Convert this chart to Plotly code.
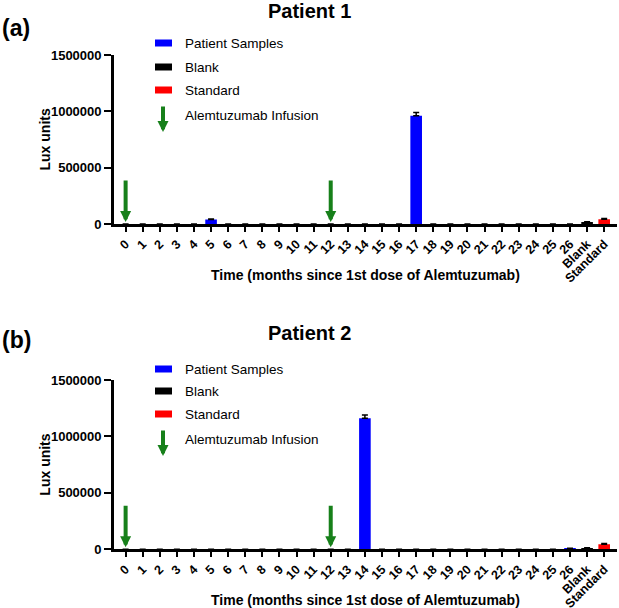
import plotly.graph_objects as go

# ---------------- data ----------------
months = ["0", "1", "2", "3", "4", "5", "6", "7", "8", "9", "10", "11", "12", "13",
          "14", "15", "16", "17", "18", "19", "20", "21", "22", "23", "24", "25", "26"]
controls = ["Blank", "Standard"]
categories = months + controls

p1_samples = [0, 0, 0, 0, 0, 40000, 0, 0, 0, 0, 0, 0, 0, 0,
              0, 0, 0, 960000, 0, 0, 0, 0, 0, 0, 0, 0, 0]
p1_samples_err = [None, None, None, None, None, 5000, None, None, None, None, None, None, None, None,
                  None, None, None, 30000, None, None, None, None, None, None, None, None, None]
p1_blank = [15000]
p1_blank_err = [4000]
p1_standard = [42000]
p1_standard_err = [6000]

p2_samples = [0, 0, 0, 0, 0, 0, 0, 0, 0, 0, 0, 0, 0, 0,
              1160000, 0, 0, 0, 0, 0, 0, 0, 0, 0, 0, 0, 7000]
p2_samples_err = [None, None, None, None, None, None, None, None, None, None, None, None, None, None,
                  30000, None, None, None, None, None, None, None, None, None, None, None, 2000]
p2_blank = [10000]
p2_blank_err = [3000]
p2_standard = [45000]
p2_standard_err = [7000]

infusion_months = ["0", "12"]
infusion_arrow_top = 400000

y_ticks = [0, 500000, 1000000, 1500000]

x_title = "Time (months since 1st dose of Alemtuzumab)"
y_title = "Lux units"

# ---------------- styling ----------------
W, H = 619, 608
FONT = "Arial, Liberation Sans, sans-serif"
GREEN = "#17801a"
BLUE = "#0000ff"


def fx(px):
    return px / W


def fy(py):
    return 1 - py / H


fig = go.Figure()


def err(vals):
    return dict(type="data", array=vals, arrayminus=[0 if v is not None else None for v in vals],
                symmetric=False, color="black", thickness=1.5, width=3, visible=True)


panels = [
    ("x", "y", p1_samples, p1_samples_err, p1_blank, p1_blank_err, p1_standard, p1_standard_err),
    ("x2", "y2", p2_samples, p2_samples_err, p2_blank, p2_blank_err, p2_standard, p2_standard_err),
]

for xa, ya, s, se, b, be, st, ste in panels:
    fig.add_trace(go.Bar(x=months, y=s, xaxis=xa, yaxis=ya, width=0.68,
                         marker=dict(color=BLUE, line=dict(width=0)), error_y=err(se),
                         showlegend=False))
    fig.add_trace(go.Bar(x=["Blank"], y=b, xaxis=xa, yaxis=ya, width=0.68,
                         marker=dict(color="black", line=dict(width=0)), error_y=err(be),
                         showlegend=False))
    fig.add_trace(go.Bar(x=["Standard"], y=st, xaxis=xa, yaxis=ya, width=0.68,
                         marker=dict(color="red", line=dict(width=0)), error_y=err(ste),
                         showlegend=False))

# panel geometry (pixels)
x_left, x_right = 114, 617
p1_top, p1_bot = 55, 224
p2_top, p2_bot = 380, 549.3

xaxis_common = dict(type="category", categoryorder="array", categoryarray=categories,
                    range=[-0.68, 28.75], showline=True, linecolor="black", linewidth=2.7,
                    ticks="outside", ticklen=5, tickwidth=2, tickcolor="black",
                    tickangle=-45, tickfont=dict(family=FONT, size=12.5, color="black", weight="bold"),
                    showgrid=False, zeroline=False, fixedrange=True, automargin=False)
yaxis_common = dict(range=[0, 1500000], tickvals=y_ticks, tickformat="d",
                    showline=True, linecolor="black", linewidth=2.7,
                    ticks="outside", ticklen=7, tickwidth=2, tickcolor="black",
                    tickfont=dict(family=FONT, size=13, color="black", weight="bold"),
                    showgrid=False, zeroline=False, fixedrange=True, automargin=False)

fig.update_layout(
    width=W, height=H,
    margin=dict(l=0, r=0, t=0, b=0, autoexpand=False),
    paper_bgcolor="white", plot_bgcolor="white",
    barmode="overlay", showlegend=False,
    font=dict(family=FONT, color="black"),
    xaxis=dict(xaxis_common, domain=[fx(x_left), fx(x_right)], anchor="y"),
    yaxis=dict(yaxis_common, domain=[fy(p1_bot), fy(p1_top)], anchor="x"),
    xaxis2=dict(xaxis_common, domain=[fx(x_left), fx(x_right)], anchor="y2"),
    yaxis2=dict(yaxis_common, domain=[fy(p2_bot), fy(p2_top)], anchor="x2"),
)

annotations = []
shapes = []

# infusion arrows in data coordinates
for xa, ya in [("x", "y"), ("x2", "y2")]:
    for m in infusion_months:
        annotations.append(dict(xref=xa, yref=ya, axref=xa, ayref=ya,
                                x=m, y=0, ax=m, ay=infusion_arrow_top,
                                showarrow=True, arrowhead=2, arrowsize=0.55, arrowwidth=4,
                                arrowcolor=GREEN, standoff=2, text=""))

# titles, panel labels, axis titles
for title, label, ty, ly, top, bot in [("Patient 1", "(a)", 11, 28, p1_top, p1_bot),
                                       ("Patient 2", "(b)", 333, 340, p2_top, p2_bot)]:
    annotations.append(dict(xref="paper", yref="paper", x=0.5, y=fy(ty), text=f"<b>{title}</b>",
                            showarrow=False, font=dict(family=FONT, size=20, color="black"),
                            xanchor="center", yanchor="middle"))
    annotations.append(dict(xref="paper", yref="paper", x=0, y=fy(ly), text=f"<b>{label}</b>",
                            showarrow=False, font=dict(family=FONT, size=23, color="black"),
                            xanchor="left", yanchor="middle"))
    annotations.append(dict(xref="paper", yref="paper", x=fx((x_left + x_right) / 2), y=fy(bot + 51),
                            text=f"<b>{x_title}</b>", showarrow=False,
                            font=dict(family=FONT, size=14, color="black"),
                            xanchor="center", yanchor="middle"))
    annotations.append(dict(xref="paper", yref="paper", x=fx(45), y=fy((top + bot) / 2),
                            text=f"<b>{y_title}</b>", showarrow=False, textangle=-90,
                            font=dict(family=FONT, size=14, color="black"),
                            xanchor="center", yanchor="middle"))

# custom legends
legend_rows = [
    (43, 369, BLUE, "Patient Samples"),
    (67, 391, "black", "Blank"),
    (90, 414, "red", "Standard"),
]
for y1, y2, col, txt in legend_rows:
    for yy in (y1, y2):
        shapes.append(dict(type="rect", xref="paper", yref="paper",
                           x0=fx(155), x1=fx(172), y0=fy(yy - 3.5), y1=fy(yy + 3.5),
                           fillcolor=col, line=dict(width=0)))
        annotations.append(dict(xref="paper", yref="paper", x=fx(183), y=fy(yy), text=txt,
                                showarrow=False, font=dict(family=FONT, size=13.5, color="black"),
                                xanchor="left", yanchor="middle"))
for head_y, text_y in [(132, 116), (456, 439)]:
    annotations.append(dict(xref="paper", yref="paper", x=fx(163), y=fy(head_y),
                            ax=0, ay=-27, showarrow=True, arrowhead=2, arrowsize=0.55,
                            arrowwidth=4, arrowcolor=GREEN, text=""))
    annotations.append(dict(xref="paper", yref="paper", x=fx(183), y=fy(text_y),
                            text="Alemtuzumab Infusion", showarrow=False,
                            font=dict(family=FONT, size=13.5, color="black"),
                            xanchor="left", yanchor="middle"))

fig.update_layout(annotations=annotations, shapes=shapes)

fig.write_html("out.html", config={"displayModeBar": False},
               post_script="document.body.style.margin='0';document.body.style.overflow='hidden';")
